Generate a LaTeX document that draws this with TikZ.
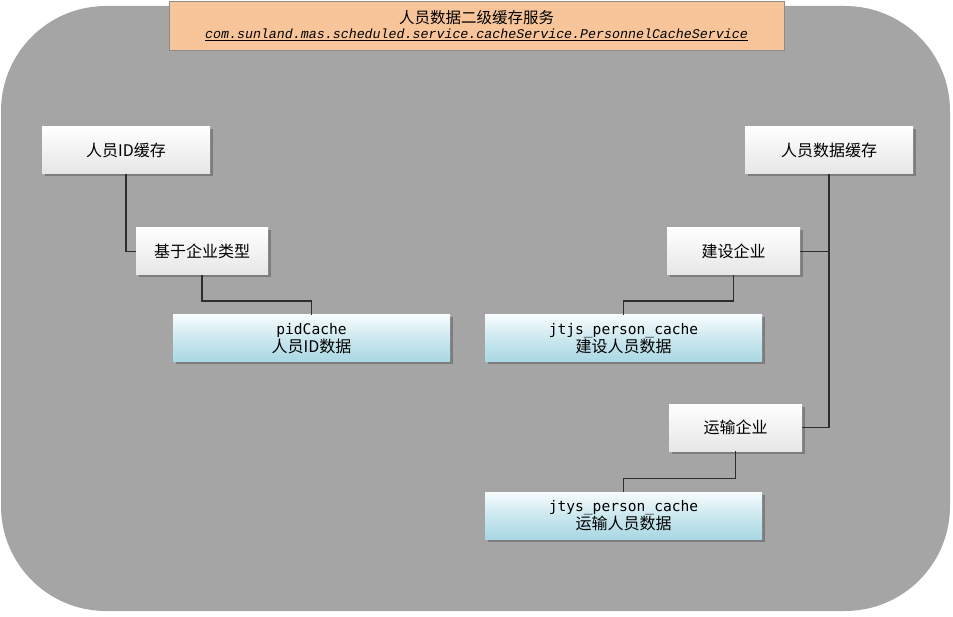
\documentclass[tikz,border=0pt]{standalone}
\usepackage{fontspec}
\setmainfont{Liberation Sans}
\newfontfamily\cjk{Noto Sans CJK SC}
\newfontfamily\codefont{DejaVu Sans Mono}
\newfontfamily\pkgfont{Liberation Mono}
\usetikzlibrary{shadows}

\definecolor{panelgray}{RGB}{165,165,165}
\definecolor{titlefill}{RGB}{248,196,154}
\definecolor{titleedge}{RGB}{140,140,140}
\definecolor{boxbottom}{RGB}{230,230,230}
\definecolor{cachetop}{RGB}{247,252,253}
\definecolor{cachebottom}{RGB}{168,215,227}
\definecolor{wire}{RGB}{45,45,45}

\tikzset{
  boxshadow/.style={drop shadow={shadow xshift=2.5pt, shadow yshift=-2.5pt, opacity=0.35, fill=black!80}},
  groupbox/.style={boxshadow, top color=white, bottom color=boxbottom,
    minimum width=#1, minimum height=47pt, inner sep=0pt,
    font=\cjk\fontsize{16}{19}\selectfont},
  cachebox/.style={boxshadow, top color=cachetop, bottom color=cachebottom,
    middle color=cachebottom!55!cachetop,
    minimum width=277pt, minimum height=47pt, inner sep=0pt, align=center,
    font=\cjk\fontsize{16}{18}\selectfont},
  link/.style={draw=wire, line width=1.4pt},
}
\newcommand{\cachename}[1]{{\codefont\fontsize{14.6}{16}\selectfont #1}}

\begin{document}
\begin{tikzpicture}[x=1pt, y=-1pt]
  \useasboundingbox (0,0) rectangle (953,617);

  % background panel
  \fill[panelgray, rounded corners=105pt] (1,6) rectangle (950,611);

  % service title
  \node[draw=titleedge, line width=0.6pt, fill=titlefill, minimum width=615pt,
        minimum height=49pt, inner sep=0pt, align=center] (title) at (476.5,25.5)
    {{\cjk\fontsize{15.5}{17}\selectfont 人员数据二级缓存服务}\\[3pt]
     {\pkgfont\itshape\fontsize{13.3}{15}\selectfont\underline{com.sunland.mas.scheduled.service.cacheService.PersonnelCacheService}}};

  % left branch
  \node[groupbox=168pt] (pid) at (126,150) {人员ID缓存};
  \node[groupbox=132pt] (bytype) at (202,251.5) {基于企业类型};
  \node[cachebox] (pidcache) at (311.5,338.5) {\cachename{pidCache}\\人员ID数据};

  % right branch
  \node[groupbox=168pt] (pdata) at (829,150) {人员数据缓存};
  \node[groupbox=133pt] (build) at (733.5,251.5) {建设企业};
  \node[cachebox] (jtjs) at (623.5,338.5) {\cachename{jtjs\_person\_cache}\\建设人员数据};
  \node[groupbox=133pt] (trans) at (735.5,427.5) {运输企业};
  \node[cachebox] (jtys) at (623.5,515.5) {\cachename{jtys\_person\_cache}\\运输人员数据};

  % connectors
  \draw[link] (pid.south) |- (bytype.west);
  \draw[link] (bytype.south) -- ++(0,26) -| (pidcache.north);
  \draw[link] (pdata.south) |- (trans.east);
  \draw[link] (build.east) -- (build.east -| pdata.south);
  \draw[link] (build.south) -- ++(0,26) -| (jtjs.north);
  \draw[link] (trans.south) -- ++(0,27) -| (jtys.north);
\end{tikzpicture}
\end{document}
